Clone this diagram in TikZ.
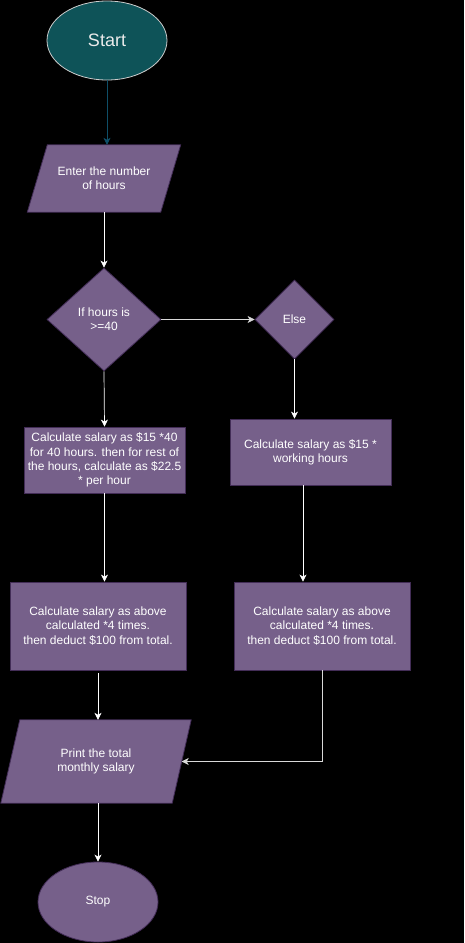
\documentclass[tikz,border=0pt]{standalone}
\usepackage{fontspec}
\setmainfont{Liberation Sans}
\usetikzlibrary{arrows.meta, shapes.geometric, positioning, backgrounds}

\definecolor{boxpurple}{HTML}{76608A}
\definecolor{boxedge}{HTML}{432D57}
\definecolor{startteal}{HTML}{0E5358}
\definecolor{startline}{HTML}{0F4F68}

\begin{document}
\begin{tikzpicture}[x=1pt, y=-1pt,
    every node/.style={font=\fontsize{12}{14.4}\selectfont, text=white,
                       align=center, inner sep=0pt},
    procbox/.style={rectangle, fill=boxpurple, draw=boxedge, line width=0.8pt},
    decbox/.style={diamond, fill=boxpurple, draw=boxedge, line width=0.8pt},
    iobox/.style={fill=boxpurple, draw=boxedge, line width=0.8pt},
    flow/.style={-{Stealth[length=7pt, width=7pt, inset=2pt]},
                 white, line width=0.7pt}]

  % terminals
  \node[ellipse, fill=startteal, draw=gray!40, line width=0.8pt,
        minimum width=120, minimum height=79,
        font=\fontsize{18}{20}\selectfont, text=white!92!black]
       (start) at (107,40.5) {Start};
  \node[ellipse, fill=boxpurple, draw=boxedge, line width=0.8pt,
        minimum width=120, minimum height=80] (stop) at (98,902) {Stop};

  % input / output (slanted sides drawn below)
  \node[minimum width=133, minimum height=67]
       (hours) at (104,178.5) {Enter the number\\of hours};
  \node[minimum width=171, minimum height=83]
       (print) at (96,761.5) {Print the total\\monthly salary};

  % decisions
  \node[decbox, minimum width=114, minimum height=103]
       (ifhours) at (104,319.5) {If hours is\\>=40};
  \node[decbox, minimum width=79, minimum height=79]
       (else) at (294.5,319.5) {Else};

  % processes
  \node[procbox, minimum width=161, minimum height=66]
       (calcover) at (104.5,460) {Calculate salary as \$15 *40\\for 40 hours. then for rest of\\the hours, calculate as \$22.5\\* per hour};
  \node[procbox, minimum width=161, minimum height=66]
       (calcbase) at (310.5,452) {Calculate salary as \$15 *\\working hours};
  \node[procbox, minimum width=176, minimum height=88]
       (monthover) at (98,626) {Calculate salary as above\\calculated *4 times.\\then deduct \$100 from total.};
  \node[procbox, minimum width=176, minimum height=88]
       (monthbase) at (322,626) {Calculate salary as above\\calculated *4 times.\\then deduct \$100 from total.};

  \begin{scope}[on background layer]
    \fill[black] (0,0) rectangle (464,943);
    \filldraw[iobox] ([xshift=10pt]hours.north west) -- ([xshift=10pt]hours.north east)
       -- ([xshift=-10pt]hours.south east) -- ([xshift=-10pt]hours.south west) -- cycle;
    \filldraw[iobox] ([xshift=9.5pt]print.north west) -- ([xshift=9.5pt]print.north east)
       -- ([xshift=-9.5pt]print.south east) -- ([xshift=-9.5pt]print.south west) -- cycle;
  \end{scope}

  % connectors
  \draw[flow, startline] (start.south) -- (start.south |- hours.north);
  \draw[flow] (hours.south) -- (ifhours.north);
  \draw[flow, white!85!black] (ifhours.east) -- (else.west);
  \draw[flow] (ifhours.south) -- (calcover.north);
  \draw[flow] (else.south) -- (else.south |- calcbase.north);
  \draw[flow] (calcover.south) -- (calcover.south |- monthover.north);
  \draw[flow] ([xshift=-7.5pt]calcbase.south) -- ([xshift=-7.5pt]calcbase.south |- monthbase.north);
  \draw[flow] ([yshift=-3pt]monthover.south) -- (monthover.south |- print.north);
  \draw[flow, white!85!black] (monthbase.south) |- (print.east);
  \draw[flow] (stop.north |- print.south) -- (stop.north);
\end{tikzpicture}
\end{document}
